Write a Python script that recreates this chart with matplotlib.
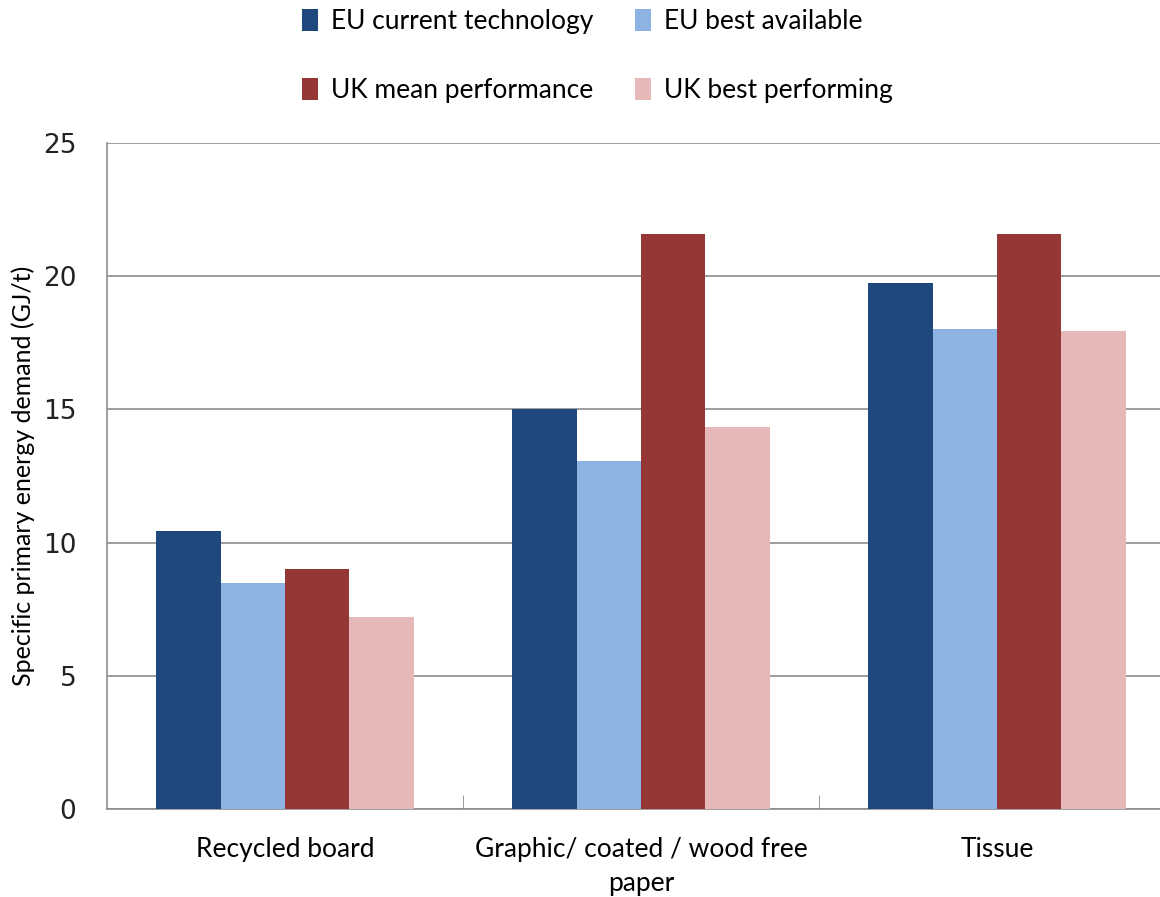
import matplotlib.pyplot as plt
import numpy as np

categories = ['Recycled board', 'Graphic/ coated / wood free\npaper', 'Tissue']
series_names = ['EU current technology', 'EU best available',
                'UK mean performance', 'UK best performing']
eu_current = [10.45, 15.0, 19.75]
eu_best = [8.5, 13.05, 18.0]
uk_mean = [9.0, 21.6, 21.6]
uk_best = [7.2, 14.35, 17.95]
colors = ['#1F497D', '#8EB4E3', '#953735', '#E6B9B8']

plt.rcParams['font.family'] = ['Lato', 'DejaVu Sans']

fig = plt.figure(figsize=(11.6, 8.97), dpi=100)
# axes runs past the right edge of the picture, like the reference
ax = fig.add_axes([107 / 1160, 88 / 897, 1068 / 1160, 666 / 897])

x = np.arange(len(categories))
w = 0.181
values = [eu_current, eu_best, uk_mean, uk_best]
handles = []
for i, (vals, name, c) in enumerate(zip(values, series_names, colors)):
    b = ax.bar(x + (i - 1.5) * w, vals, w, color=c, label=name, zorder=3)
    handles.append(b)

ax.set_xlim(-0.5, 2.5)
ax.set_ylim(0, 25)
ax.set_yticks(np.arange(0, 26, 5))
ax.yaxis.grid(True, color='#8c8c8c', linewidth=1.2, zorder=0)
ax.tick_params(axis='y', length=0, pad=22, labelsize=19)
for lbl in ax.get_yticklabels():
    lbl.set_family('DejaVu Sans')
    lbl.set_color('#222222')

ax.set_xticks(x)
ax.set_xticklabels(categories, fontsize=19, linespacing=1.45)
ax.set_xticks([0.5, 1.5], minor=True)
ax.tick_params(axis='x', which='major', length=0, pad=20)
ax.tick_params(axis='x', which='minor', direction='in', length=10, color='#8c8c8c')

for s in ['top', 'right']:
    ax.spines[s].set_visible(False)
for s in ['left', 'bottom']:
    ax.spines[s].set_color('#8c8c8c')
    ax.spines[s].set_linewidth(1.2)

ax.set_ylabel('Specific primary energy demand (GJ/t)', fontsize=18, labelpad=6)

# row-major order: EU pair on top, UK pair below
order = [0, 2, 1, 3]
fig.legend(handles=[handles[k] for k in order],
           labels=[series_names[k] for k in order], ncol=2, loc='upper center',
           bbox_to_anchor=(0.515, 1.016), frameon=False, fontsize=19,
           handlelength=0.6, handleheight=0.9, handletextpad=0.5,
           columnspacing=1.6, labelspacing=1.65)

fig.savefig('out.png', dpi=100)
